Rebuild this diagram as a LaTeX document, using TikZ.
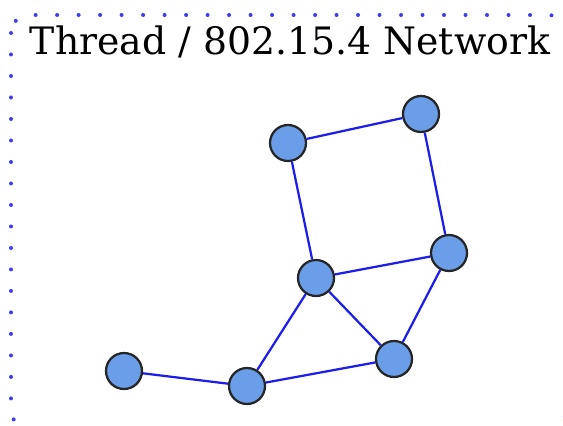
\documentclass[tikz,border=0pt]{standalone}
\usepackage{tikz}
\usepackage{fontspec}
\setmainfont{DejaVu Serif}
\usetikzlibrary{calc}

\definecolor{nodeblue}{RGB}{106,158,232}
\definecolor{linkblue}{RGB}{30,30,235}
\definecolor{dotblue}{RGB}{60,60,240}

\tikzset{
  mote/.style={circle,draw=black!85,fill=nodeblue,line width=0.045cm,minimum size=0.72cm,inner sep=0pt},
  link/.style={draw=linkblue,line width=0.045cm},
}

\begin{document}
\begin{tikzpicture}[x=0.02cm,y=-0.02cm]
  \useasboundingbox (0,0) rectangle (563,425);
  % network border
  \draw[dotblue,line width=0.08cm,line cap=round,dash pattern=on 0pt off 0.43cm,rounded corners=0.36cm]
    (11,15) rectangle (566,428);
  \node[anchor=base,font=\fontsize{21.5}{26}\selectfont] (title) at (290,55) {Thread / 802.15.4 Network};
  %
  % motes
  \node[mote] (n1) at (124,371) {};
  \node[mote] (n2) at (247,386) {};
  \node[mote] (n3) at (394,359) {};
  \node[mote] (n4) at (316,278) {};
  \node[mote] (n5) at (449,253) {};
  \node[mote] (n6) at (288,143) {};
  \node[mote] (n7) at (421,114) {};
  %
  % links
  \foreach \a/\b in {n1/n2,n2/n3,n2/n4,n4/n3,n3/n5,n4/n5,n4/n6,n6/n7,n7/n5}
    \path[link] (\a) -- (\b);
\end{tikzpicture}
\end{document}
